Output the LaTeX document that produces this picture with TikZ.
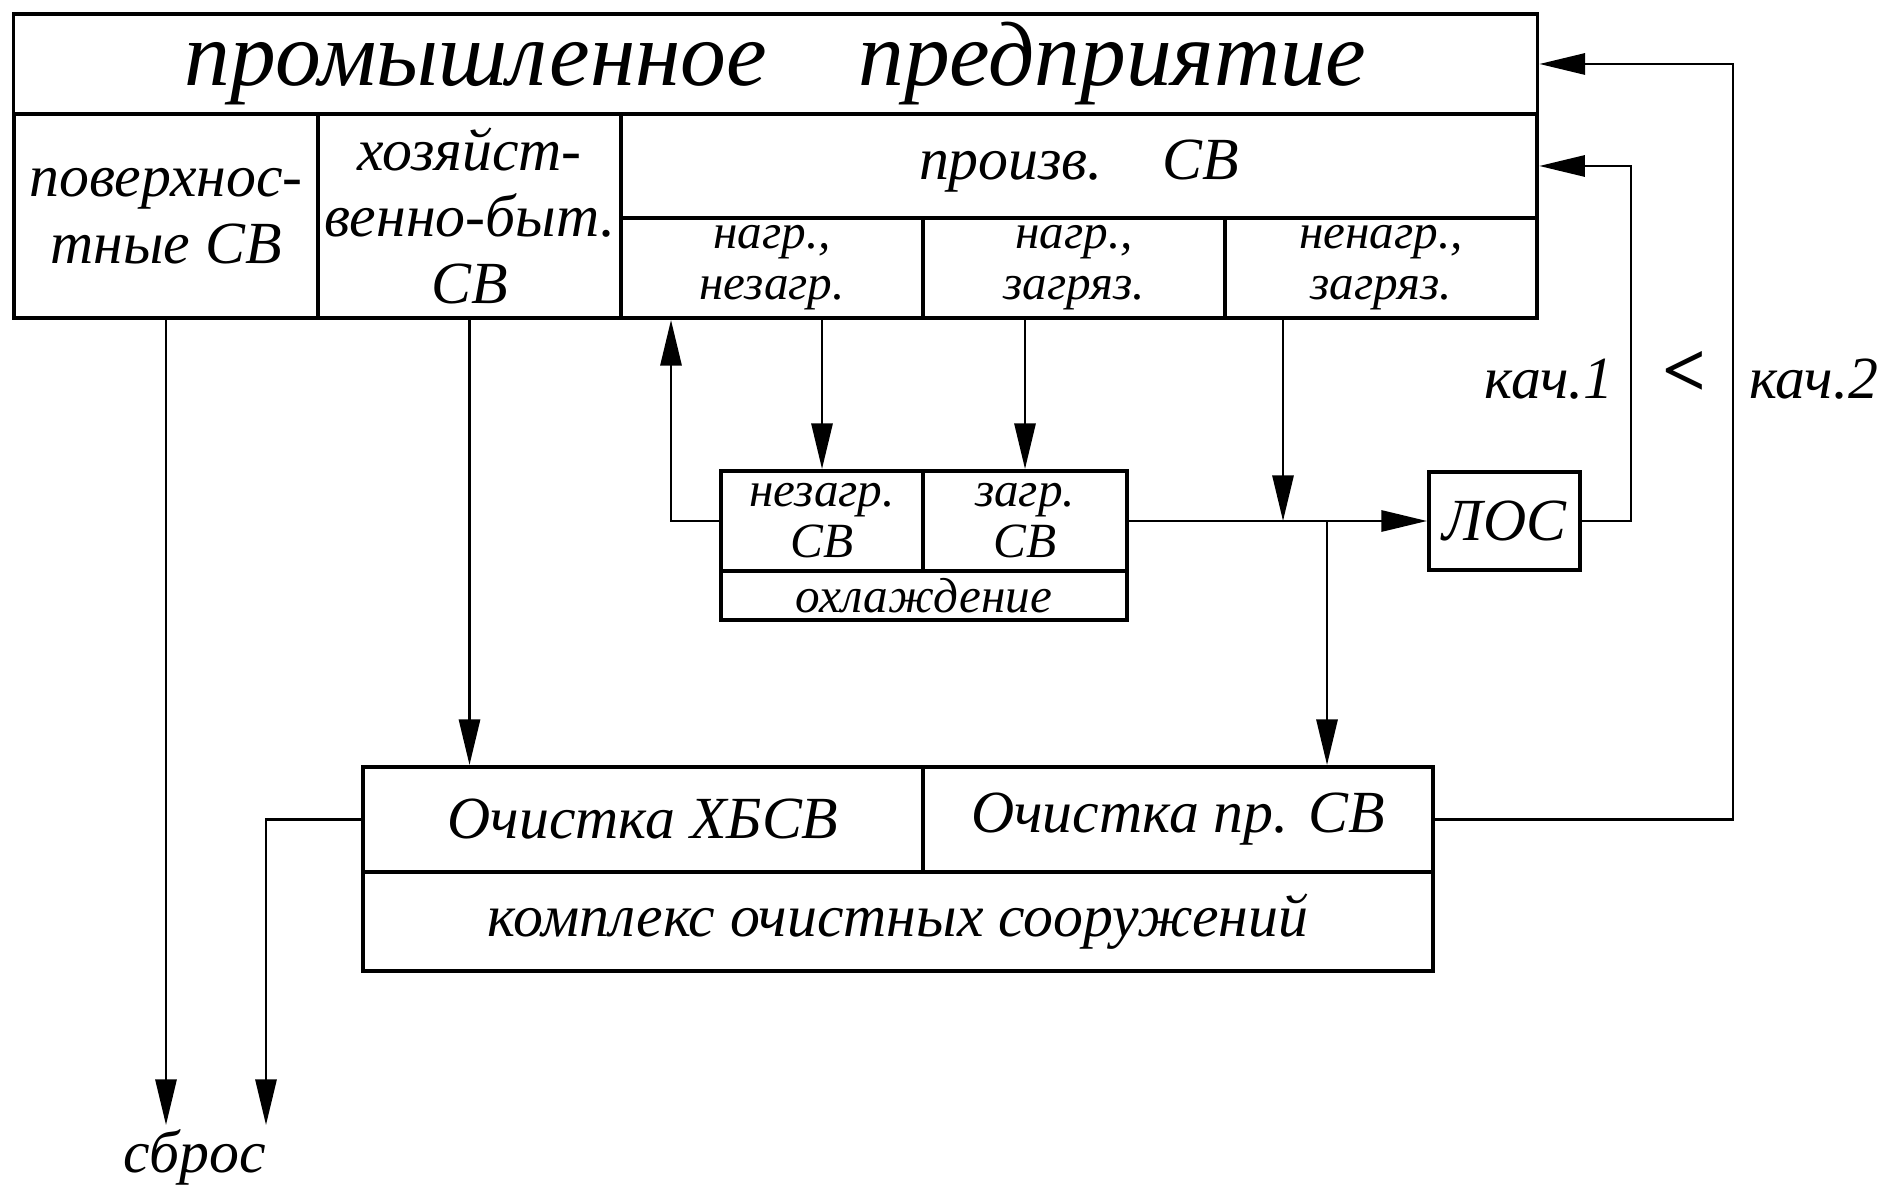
\documentclass[tikz,border=0pt]{standalone}
\usepackage{fontspec}
\setmainfont{Liberation Serif}
\usetikzlibrary{arrows.meta,positioning}
\newcommand{\hand}{\itshape\fontsize{17}{19}\selectfont}
\newcommand{\handsmall}{\itshape\fontsize{14}{14.5}\selectfont}
\newcommand{\handbig}{\itshape\fontsize{26}{30}\selectfont}

\begin{document}
\begin{tikzpicture}[x=0.01cm,y=-0.01cm,
  box/.style={rectangle,draw,line width=1.1pt,inner sep=1pt,align=center,font=\hand},
  small/.style={box,inner sep=0pt,font=\handsmall},
  arr/.style={line width=0.8pt,-{Triangle[length=13pt,width=6pt]}},
  lbl/.style={font=\hand,inner sep=1pt}]
\useasboundingbox (0,0) rectangle (1880,1198);

\node[box,minimum width=15.23cm,minimum height=1.00cm,font=\handbig] (title) at (775.5,64) {промышленное\quad предприятие};
\node[box,minimum width=3.04cm,minimum height=2.04cm] (surf) at (166,216) {поверхнос-\\тные СВ};
\node[box,minimum width=3.03cm,minimum height=2.04cm] (dom) at (469.5,216) {хозяйст-\\венно-быт.\\СВ};
\node[box,minimum width=9.16cm,minimum height=1.04cm] (prod) at (1079,166) {произв.\quad СВ};
\node[small,minimum width=3.02cm,minimum height=1.00cm] (nz) at (772,268) {нагр.,\\незагр.};
\node[small,minimum width=3.02cm,minimum height=1.00cm] (nzz) at (1074,268) {нагр.,\\загряз.};
\node[small,minimum width=3.12cm,minimum height=1.00cm] (nnz) at (1381,268) {ненагр.,\\загряз.};

\node[small,minimum width=2.02cm,minimum height=1.00cm] (cool1) at (822,521) {незагр.\\СВ};
\node[small,minimum width=2.04cm,minimum height=1.00cm] (cool2) at (1025,521) {загр.\\СВ};
\node[small,minimum width=4.06cm,minimum height=0.49cm] (coolbot) at (924,595.5) {охлаждение};

\node[box,minimum width=1.51cm,minimum height=0.98cm] (los) at (1504.5,521) {ЛОС};

\node[box,minimum width=5.60cm,minimum height=1.05cm] (tr1) at (643,819.5) {Очистка ХБСВ};
\node[box,minimum width=5.10cm,minimum height=1.05cm] (tr2) at (1178,819.5) {Очистка пр. СВ};
\node[box,minimum width=10.70cm,minimum height=0.99cm] (trbot) at (898,921.5) {комплекс очистных сооружений};

\node[lbl] (sbros) at (195,1157) {сброс};
\node[lbl,anchor=east] (q1lbl) at (1618,379) {кач.1};
\node[lbl,font=\bfseries\fontsize{22}{24}\selectfont] (less) at (1685,374) {<};
\node[lbl,anchor=west] (q2lbl) at (1745,379) {кач.2};

\coordinate (j1) at (1283,521);
\coordinate (j2) at (1327,521);
\coordinate (j3) at (671,521);
\coordinate (k) at (266,819.5);
\coordinate (q1) at (1631,166);
\coordinate (q2) at (1733,64);

\draw[arr] (nz.south -| cool1.north) -- (cool1.north);
\draw[arr] (nzz.south -| cool2.north) -- (cool2.north);
\draw[arr] (cool1.west) -- (j3) -- (j3 |- nz.south);
\draw[arr] (nnz.south -| j1) -- (j1);
\draw[arr] (cool2.east) -- (los.west);
\draw[arr] (j2) -- (j2 |- tr2.north);
\draw[arr] (dom.south) -- (dom.south |- tr1.north);
\draw[arr] (surf.south) -- (surf.south |- sbros.north);
\draw[arr] (tr1.west) -- (k) -- (k |- sbros.north);
\draw[arr] (los.east) -| (q1) -- (q1 -| prod.east);
\draw[arr] (tr2.east) -| (q2) -- (title.east);
\end{tikzpicture}
\end{document}
